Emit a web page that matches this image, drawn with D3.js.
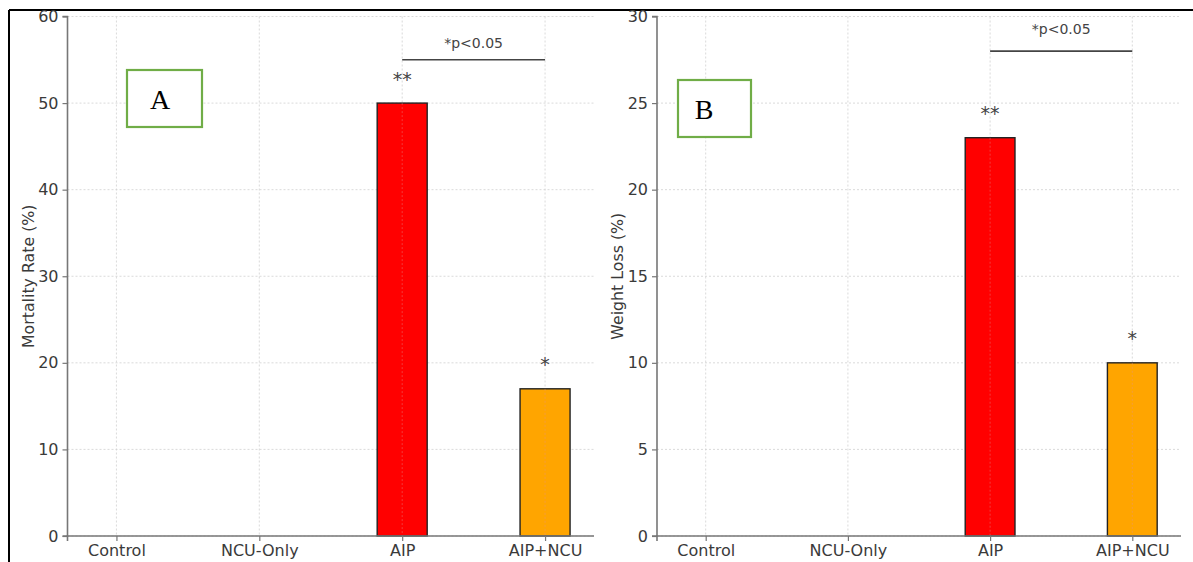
<!DOCTYPE html>
<html>
<head>
<meta charset="utf-8">
<script src="https://cdn.jsdelivr.net/npm/d3@7"></script>
<style>
  html, body { margin: 0; padding: 0; background: #fff; }
  svg { display: block; }
  text { font-family: "DejaVu Sans", sans-serif; }
</style>
</head>
<body>
<svg id="chart" width="1193" height="562"></svg>
<script>
const categories = ["Control", "NCU-Only", "AIP", "AIP+NCU"];
const mortality = [0, 0, 50, 17];
const weightLoss = [0, 0, 23, 10];
const barColors = ["#1f77b4", "#1f77b4", "#ff0000", "#ffa500"];
const stars = ["", "", "**", "*"];
const mortalityTicks = [0, 10, 20, 30, 40, 50, 60];
const weightTicks = [0, 5, 10, 15, 20, 25, 30];
const sigLabel = "*p<0.05";

const svg = d3.select("#chart");

// figure border (left and top)
svg.append("line").attr("x1", 9).attr("x2", 9).attr("y1", 10).attr("y2", 562)
  .attr("stroke", "#000").attr("stroke-width", 2);
svg.append("line").attr("x1", 9).attr("x2", 1193).attr("y1", 10).attr("y2", 10)
  .attr("stroke", "#000").attr("stroke-width", 2);

function panel(opts) {
  const { left, right, top, bottom, values, ticks, ymax, ylabel, ylabelX, letter, box, letterX, sigY, sigTextY } = opts;
  const g = svg.append("g");
  const x = d3.scaleLinear().domain([-0.3425, 3.3425]).range([left, right]);
  const y = d3.scaleLinear().domain([0, ymax]).range([bottom, top]);
  const bw = x(0.35) - x(0);

  // grid
  g.append("g").selectAll("line.hg").data(ticks).join("line")
    .attr("x1", left).attr("x2", right)
    .attr("y1", d => y(d)).attr("y2", d => y(d))
    .attr("stroke", "#d0d0d0").attr("stroke-width", 0.8).attr("stroke-dasharray", "2,2");
  g.append("g").selectAll("line.vg").data(categories.map((c, i) => i)).join("line")
    .attr("x1", d => x(d)).attr("x2", d => x(d))
    .attr("y1", top).attr("y2", bottom)
    .attr("stroke", "#d0d0d0").attr("stroke-width", 0.8).attr("stroke-dasharray", "2,2");

  // bars
  g.append("g").selectAll("rect").data(values).join("rect")
    .attr("x", (d, i) => x(i) - bw / 2)
    .attr("width", bw)
    .attr("y", d => y(d))
    .attr("height", d => y(0) - y(d))
    .attr("fill", (d, i) => barColors[i])
    .attr("stroke", "#222").attr("stroke-width", d => d > 0 ? 1.4 : 0);

  // grid over bars
  g.append("g").selectAll("line.vg2").data([2, 3]).join("line")
    .attr("x1", d => x(d)).attr("x2", d => x(d))
    .attr("y1", d => y(values[d])).attr("y2", bottom)
    .attr("stroke", "#e09090").attr("stroke-opacity", 0.5).attr("stroke-width", 0.8).attr("stroke-dasharray", "2,2");

  // axes
  const ya = d3.axisLeft(y).tickValues(ticks).tickSize(5).tickPadding(4).tickFormat(d3.format("d"));
  const yg = g.append("g").attr("transform", `translate(${left},0)`).call(ya);
  const xa = d3.axisBottom(x).tickValues([0, 1, 2, 3]).tickSize(5).tickPadding(4).tickFormat(i => categories[i]);
  const xg = g.append("g").attr("transform", `translate(0,${bottom})`).call(xa);
  [yg, xg].forEach(a => {
    a.select(".domain").attr("stroke", "#777").attr("stroke-width", 1.6);
    a.selectAll(".tick line").attr("stroke", "#777").attr("stroke-width", 1.2);
    a.selectAll(".tick text").attr("fill", "#3a3a3a").style("font-size", "16px").style("font-family", "DejaVu Sans, sans-serif");
  });
  yg.select(".domain").attr("d", `M-5,${top}H0V${bottom}H-5`);
  xg.select(".domain").attr("d", `M${left},5V0H${right}`);

  // y label
  g.append("text")
    .attr("transform", `translate(${ylabelX},${(top + bottom) / 2}) rotate(-90)`)
    .attr("text-anchor", "middle").attr("dy", "0.35em")
    .attr("fill", "#3a3a3a").style("font-size", "15.8px")
    .text(ylabel);

  // stars
  g.append("g").selectAll("text.star").data(values).join("text")
    .attr("x", (d, i) => x(i))
    .attr("y", d => y(d + ymax * 0.05))
    .attr("text-anchor", "middle").attr("dy", "0.45em")
    .attr("fill", "#444").style("font-size", "19px")
    .text((d, i) => stars[i]);

  // significance line
  g.append("line")
    .attr("x1", x(2)).attr("x2", x(3))
    .attr("y1", y(sigY)).attr("y2", y(sigY))
    .attr("stroke", "#444").attr("stroke-width", 1.6);
  g.append("text")
    .attr("x", (x(2) + x(3)) / 2).attr("y", y(sigTextY))
    .attr("text-anchor", "middle").attr("dy", "0.35em")
    .attr("fill", "#444").style("font-size", "14px")
    .text(sigLabel);

  // letter box
  g.append("rect").attr("x", box[0]).attr("y", box[1]).attr("width", box[2]).attr("height", box[3])
    .attr("fill", "#fff").attr("stroke", "#70ad47").attr("stroke-width", 2.2);
  g.append("text").attr("x", letterX).attr("y", box[1] + box[3] / 2)
    .attr("text-anchor", "middle").attr("dy", "0.36em")
    .style("font-family", "'Liberation Serif', 'Times New Roman', serif").style("font-size", "28px")
    .attr("fill", "#000").text(letter);
}

panel({ left: 67.5, right: 594, top: 16.5, bottom: 536, values: mortality, ticks: mortalityTicks, ymax: 60,
  ylabel: "Mortality Rate (%)", ylabelX: 28, letter: "A", box: [127, 70, 75, 57], letterX: 160, sigY: 55, sigTextY: 56.9 });
panel({ left: 657, right: 1181, top: 16.5, bottom: 536, values: weightLoss, ticks: weightTicks, ymax: 30,
  ylabel: "Weight Loss (%)", ylabelX: 617, letter: "B", box: [678, 80, 73, 57], letterX: 704, sigY: 28, sigTextY: 29.3 });
</script>
</body>
</html>
